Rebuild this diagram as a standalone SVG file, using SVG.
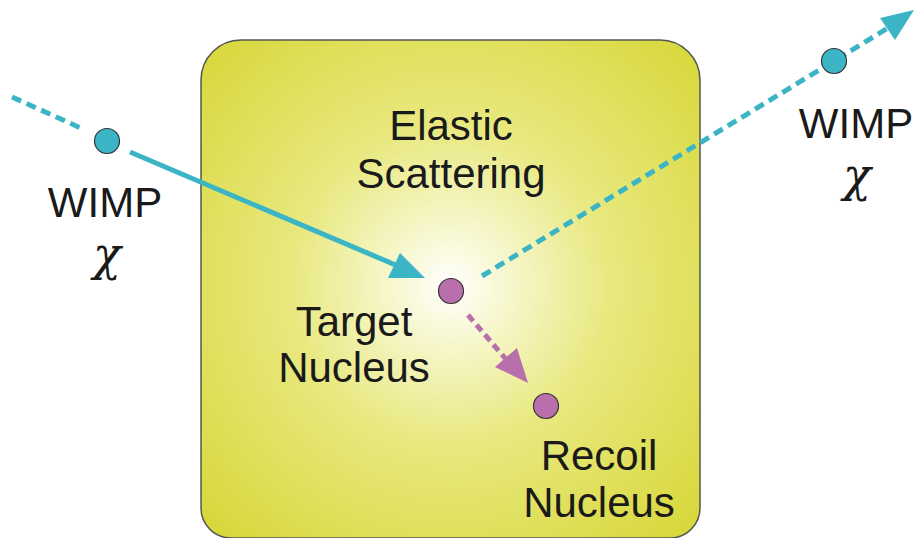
<svg xmlns="http://www.w3.org/2000/svg" width="915" height="538" viewBox="0 0 915 538">
<defs>
<radialGradient id="glow" gradientUnits="userSpaceOnUse" cx="450" cy="285" r="360">
<stop offset="0" stop-color="#ffffff"/>
<stop offset="0.14" stop-color="#f8f8d4"/>
<stop offset="0.45" stop-color="#e8e87e"/>
<stop offset="1" stop-color="#d6d634"/>
</radialGradient>
<style>
.lbl{font-family:"Liberation Sans",Arial,sans-serif;font-size:42px;fill:#1a1a1a;text-anchor:middle}
.chi{font-family:"DejaVu Serif",serif;font-style:italic;font-size:46px;fill:#1a1a1a;text-anchor:middle}
.wimp{fill:#3bb5c5;stroke:#333;stroke-width:1.2}
.nuc{fill:#b86fab;stroke:#333;stroke-width:1.2}
.teal{stroke:#3bb5c5;stroke-width:5;fill:none}
.purp{stroke:#b86fab;stroke-width:5;fill:none}
</style>
</defs>
<g id="box">
<path d="M241,40 H660 A40,40 0 0 1 700,80 V508 A30,30 0 0 1 670,538 H231 A30,30 0 0 1 201,508 V80 A40,40 0 0 1 241,40 Z" fill="url(#glow)" stroke="#555" stroke-width="1.5"/>
<text class="lbl" x="451" y="140">Elastic</text>
<text class="lbl" x="451" y="188">Scattering</text>
</g>
<g id="connectors">
<line class="teal" x1="12" y1="97" x2="83" y2="129" stroke-dasharray="10,6"/>
<line class="teal" x1="130" y1="152" x2="405" y2="269"/>
<polygon points="425,278 400,253 388,278" fill="#3bb5c5"/>
<line class="teal" x1="482" y1="276" x2="888" y2="28" stroke-dasharray="10,6"/>
<polygon points="914,10 880,18 895,40" fill="#3bb5c5"/>
<line class="purp" x1="468" y1="315" x2="510" y2="364" stroke-dasharray="8,5"/>
<polygon points="528,383 495,367 517,348" fill="#b86fab"/>
</g>
<g id="wimp-in">
<circle class="wimp" cx="107" cy="141" r="12.5"/>
<text class="lbl" x="105" y="217">WIMP</text>
<text class="chi" x="107" y="270">χ</text>
</g>
<g id="target">
<circle class="nuc" cx="451" cy="291" r="12.5"/>
<text class="lbl" x="354" y="336">Target</text>
<text class="lbl" x="354" y="382">Nucleus</text>
</g>
<g id="recoil">
<circle class="nuc" cx="546" cy="406" r="12.5"/>
<text class="lbl" x="599" y="470">Recoil</text>
<text class="lbl" x="599" y="517">Nucleus</text>
</g>
<g id="wimp-out">
<circle class="wimp" cx="834" cy="61" r="12.5"/>
<text class="lbl" x="856" y="138">WIMP</text>
<text class="chi" x="857" y="191">χ</text>
</g>
</svg>
